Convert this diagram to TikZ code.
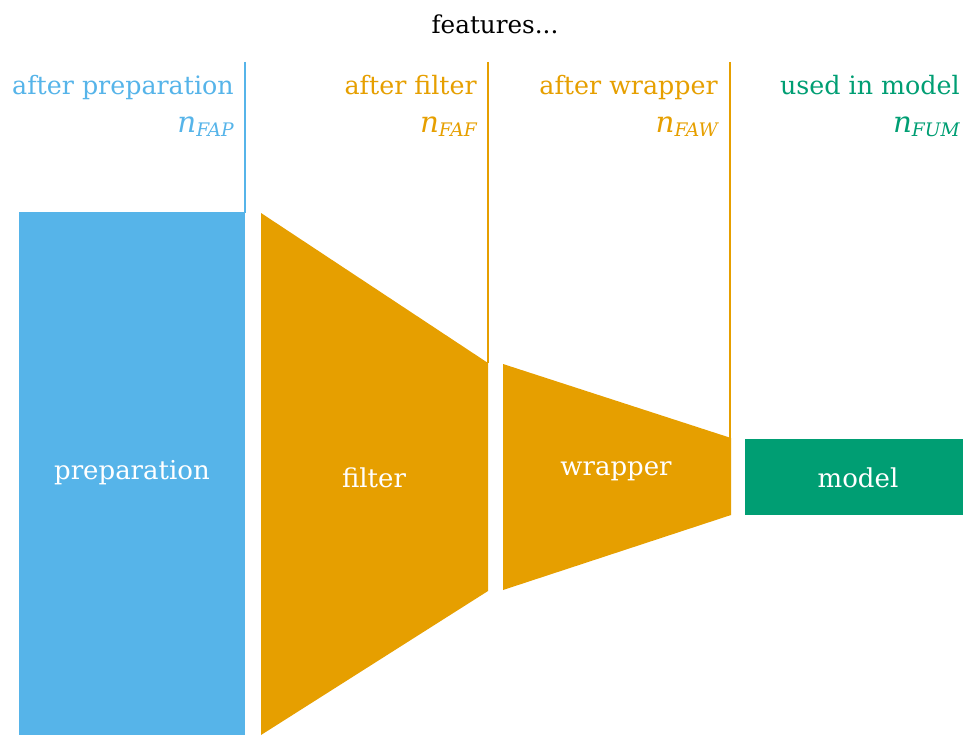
\documentclass[tikz,border=0pt]{standalone}
\usepackage{fontspec}
\setmainfont{DejaVu Serif}
\definecolor{cblue}{HTML}{56B4E9}
\definecolor{corange}{HTML}{E69F00}
\definecolor{cgreen}{HTML}{009E73}
\newcommand{\nsub}[1]{{\fontsize{22pt}{24pt}\selectfont\itshape n}\raisebox{-0.35em}{\fontsize{14pt}{14pt}\selectfont\itshape #1}}
\begin{document}
\begin{tikzpicture}[x=0.75pt,y=-0.75pt,
  head/.style={font=\fontsize{19pt}{21pt}\selectfont, anchor=base east, inner sep=0pt},
  sub/.style={anchor=base east, inner sep=0pt},
  inlabel/.style={text=white, font=\fontsize{19.5pt}{21pt}\selectfont, inner sep=0pt},
  divider/.style={line width=1.5pt}]
\useasboundingbox (0,0) rectangle (963,735);
% shapes
\fill[cblue] (19,212) rectangle (245,735);
\fill[corange] (261,213) coordinate (f1) -- (488,363) coordinate (f2) -- (488,591) -- (261,735) -- cycle;
\fill[corange] (503,364) coordinate (w1) -- (731,438) coordinate (w2) -- (731,515) -- (503,590) -- cycle;
\fill[cgreen] (745,439) rectangle (963,515);
% dividers
\coordinate (b0) at (245,62); \coordinate (b1) at (245,213);
\coordinate (o0) at (488,62); \coordinate (o1) at (488,363);
\coordinate (p0) at (730,62); \coordinate (p1) at (730,438);
\draw[divider, cblue] (b0) -- (b1);
\draw[divider, corange] (o0) -- (o1);
\draw[divider, corange] (p0) -- (p1);
% titles
\node[font=\fontsize{18.5pt}{20pt}\selectfont, anchor=base, inner sep=0pt] (feat) at (495,34) {features...};
\node[head, text=cblue] (h1) at (234,94) {after preparation};
\node[head, text=corange] (h2) at (477,94) {after filter};
\node[head, text=corange] (h3) at (718,94) {after wrapper};
\node[head, text=cgreen] (h4) at (960,94) {used in model};
\node[sub, text=cblue] (s1) at (234,132) {\nsub{FAP}};
\node[sub, text=corange] (s2) at (477,132) {\nsub{FAF}};
\node[sub, text=corange] (s3) at (718,132) {\nsub{FAW}};
\node[sub, text=cgreen] (s4) at (960,132) {\nsub{FUM}};
% inner labels
\node[inlabel] (lp) at (132,473) {preparation};
\node[inlabel] (lf) at (374,478) {filter};
\node[inlabel] (lw) at (616,471) {wrapper};
\node[inlabel] (lm) at (858,478) {model};
\end{tikzpicture}
\end{document}
